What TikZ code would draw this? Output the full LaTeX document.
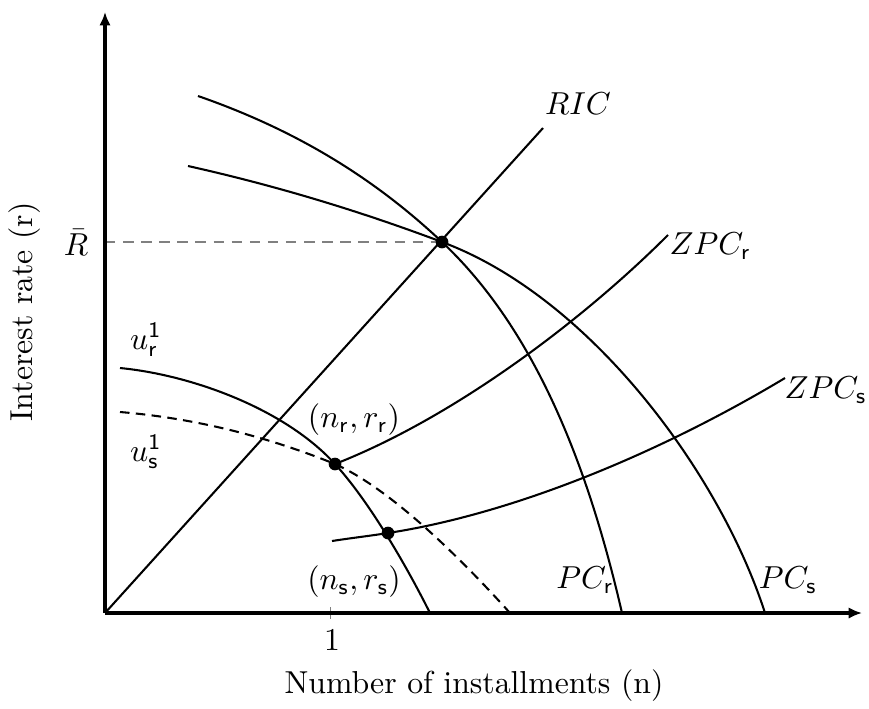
\documentclass[tikz,border=0pt]{standalone}
\usetikzlibrary{arrows.meta}
\begin{document}
\begin{tikzpicture}[x=0.315pt,y=-0.315pt,
    curve/.style={line width=0.65pt},
    axis/.style={line width=1pt,-{Latex[length=4.2pt,width=3.6pt]}},
    guide/.style={gray,dash pattern=on 3.3pt off 2.4pt}]

    \useasboundingbox (0,0) rectangle (869,708);

    % points
    \coordinate (O) at (105,613);
    \coordinate (top) at (442,242);
    \coordinate (nr) at (335,464);
    \coordinate (ns) at (388,533);

    % guides
    \draw[guide] (105,242) -- (top);
    \draw[gray,very thin] (330,607) -- (330,619);

    % axes
    \draw[axis] (O) -- (862,613);
    \draw[axis] (O) -- (105,12);

    % RIC
    \draw[curve] (O) -- (543,128);

    % PC curves
    \draw[curve] (198,96) .. controls (293,129) and (372,176) .. (top)
        .. controls (542,336) and (592,483) .. (622,613);
    \draw[curve] (188,166) .. controls (273,185) and (357,210) .. (top)
        .. controls (590,297) and (720,473) .. (765,613);

    % indifference curves
    \draw[curve] (120,368) .. controls (192,375) and (285,409) .. (nr)
        .. controls (368,500) and (405,563) .. (430,613);
    \draw[curve,dash pattern=on 3pt off 2pt] (120,412) .. controls (192,418) and (263,435) .. (nr)
        .. controls (393,490) and (465,563) .. (510,613);

    % ZPC curves
    \draw[curve] (nr) .. controls (455,417) and (583,320) .. (668,235);
    \draw[curve] (332,541) .. controls (351,538) and (369,536) .. (ns)
        .. controls (518,513) and (665,450) .. (785,378);

    % dots
    \fill (top) circle (2pt) (nr) circle (2pt) (ns) circle (2pt);

    % labels
    \node (ric) at (578,104) {$RIC$};
    \node[anchor=west,inner sep=0pt] (zpcr) at (669,246) {$ZPC_{\mathsf{r}}$};
    \node[anchor=west,inner sep=0pt] (zpcs) at (784,390) {$ZPC_{\mathsf{s}}$};
    \node (pcr) at (585,580) {$PC_{\mathsf{r}}$};
    \node (pcs) at (788,580) {$PC_{\mathsf{s}}$};
    \node (ptr) at (354,420) {$(n_{\mathsf{r}},r_{\mathsf{r}})$};
    \node (pts) at (354,582) {$(n_{\mathsf{s}},r_{\mathsf{s}})$};
    \node (ur) at (146,340) {$u_{\mathsf{r}}^{\mathsf{1}}$};
    \node (us) at (146,452) {$u_{\mathsf{s}}^{\mathsf{1}}$};
    \node[anchor=east,inner sep=1pt] (rbar) at (92,242) {$\bar{R}$};
    \node (one) at (332,640) {$1$};
    \node (xlab) at (474,686) {Number of installments (n)};
    \node[rotate=90] (ylab) at (25,312) {Interest rate (r)};
\end{tikzpicture}
\end{document}
